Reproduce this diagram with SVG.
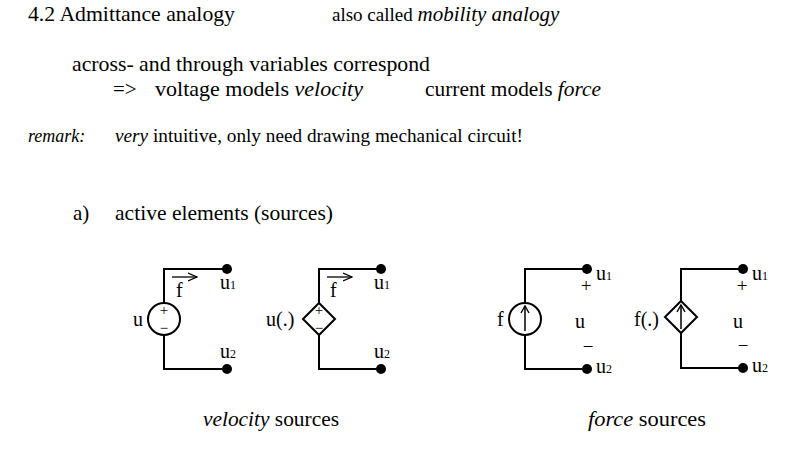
<svg xmlns="http://www.w3.org/2000/svg" width="800" height="455" viewBox="0 0 800 455">
<style>
text{font-family:"Liberation Serif","Times New Roman",serif;fill:#000}
.t{font-size:21px}
.s{font-size:18px}
.l{font-size:20px}
.sub{font-size:12px}
.sym{font-size:15px}
.pm{font-size:19px}
.i{font-style:italic}
.w{fill:none;stroke:#000;stroke-width:2}
.dot{fill:#000}
</style>
<defs>
<marker id="ah" markerWidth="10" markerHeight="10" refX="9" refY="5" orient="auto" markerUnits="userSpaceOnUse">
<path d="M0,1 L9,5 L0,9" fill="none" stroke="#000" stroke-width="1.3"/>
</marker>
<marker id="ahs" markerWidth="10" markerHeight="10" refX="8" refY="5" orient="auto" markerUnits="userSpaceOnUse">
<path d="M1,1 L8,5 L1,9" fill="none" stroke="#000" stroke-width="1.4"/>
</marker>
</defs>
<rect width="800" height="455" fill="#fff"/>
<g id="header">
<text class="t" x="28" y="21" textLength="207" lengthAdjust="spacingAndGlyphs">4.2 Admittance analogy</text>
<text x="332" y="21" font-size="19">also called <tspan class="i" font-size="21">mobility analogy</tspan></text>
<text class="t" x="72" y="71" textLength="358" lengthAdjust="spacingAndGlyphs">across- and through variables correspond</text>
<text class="t" x="113" y="96">=&gt;</text>
<text class="t" x="155" y="96" textLength="208" lengthAdjust="spacingAndGlyphs">voltage models <tspan class="i">velocity</tspan></text>
<text class="t" x="425" y="96" textLength="176" lengthAdjust="spacingAndGlyphs">current models <tspan class="i">force</tspan></text>
<text class="s i" x="28" y="142">remark:</text>
<text class="s" x="115" y="142" textLength="408" lengthAdjust="spacingAndGlyphs"><tspan class="i">very</tspan> intuitive, only need drawing mechanical circuit!</text>
<text class="t" x="73" y="220">a)</text>
<text class="t" x="115" y="220" textLength="218" lengthAdjust="spacingAndGlyphs">active elements (sources)</text>
</g>
<g id="connectors">
<path class="w" d="M227,269 H164 V303 M164,335 V369 H227"/>
<path class="w" d="M381,269 H319 V303 M319,335 V369 H381"/>
<path class="w" d="M587,269 H525 V303 M525,335 V369 H587"/>
<path class="w" d="M743,269 H681 V301 M681,333 V368 H743"/>
</g>
<g id="velocity-source">
<circle class="w" cx="164" cy="319" r="16"/>
<text class="sym" x="164" y="315" text-anchor="middle">+</text>
<text class="sym" x="164" y="333" text-anchor="middle">−</text>
<text class="l" x="133" y="326">u</text>
<line x1="172" y1="277" x2="197" y2="277" stroke="#000" stroke-width="1.3" marker-end="url(#ah)"/>
<text class="l" x="176" y="297">f</text>
<circle class="dot" cx="227" cy="269" r="5"/>
<circle class="dot" cx="227" cy="369" r="5"/>
<text class="l" x="220" y="289">u<tspan class="sub">1</tspan></text>
<text class="l" x="220" y="358">u<tspan class="sub">2</tspan></text>
</g>
<g id="dep-velocity-source">
<path class="w" d="M319,303 L335,319 L319,335 L303,319 Z"/>
<text class="sym" x="319" y="315" text-anchor="middle">+</text>
<text class="sym" x="319" y="333" text-anchor="middle">−</text>
<text class="l" x="266" y="326">u(.)</text>
<line x1="327" y1="277" x2="352" y2="277" stroke="#000" stroke-width="1.3" marker-end="url(#ah)"/>
<text class="l" x="330" y="297">f</text>
<circle class="dot" cx="381" cy="269" r="5"/>
<circle class="dot" cx="381" cy="369" r="5"/>
<text class="l" x="374" y="289">u<tspan class="sub">1</tspan></text>
<text class="l" x="374" y="358">u<tspan class="sub">2</tspan></text>
</g>
<g id="force-source">
<circle class="w" cx="525" cy="319" r="16"/>
<line x1="525" y1="331" x2="525" y2="306" stroke="#000" stroke-width="1.5" marker-end="url(#ahs)"/>
<text class="l" x="497" y="326">f</text>
<circle class="dot" cx="587" cy="269" r="5"/>
<circle class="dot" cx="587" cy="369" r="5"/>
<text class="l" x="596" y="280">u<tspan class="sub">1</tspan></text>
<text class="pm" x="586" y="292" text-anchor="middle">+</text>
<text class="l" x="575" y="328">u</text>
<text class="pm" x="588" y="353" text-anchor="middle">−</text>
<text class="l" x="596" y="373">u<tspan class="sub">2</tspan></text>
</g>
<g id="dep-force-source">
<path class="w" d="M681,301 L697,317 L681,333 L665,317 Z"/>
<line x1="681" y1="329" x2="681" y2="305" stroke="#000" stroke-width="1.5" marker-end="url(#ahs)"/>
<text class="l" x="634" y="326">f(.)</text>
<circle class="dot" cx="743" cy="269" r="5"/>
<circle class="dot" cx="743" cy="368" r="5"/>
<text class="l" x="752" y="280">u<tspan class="sub">1</tspan></text>
<text class="pm" x="742" y="292" text-anchor="middle">+</text>
<text class="l" x="733" y="328">u</text>
<text class="pm" x="743" y="352" text-anchor="middle">−</text>
<text class="l" x="752" y="372">u<tspan class="sub">2</tspan></text>
</g>
<g id="captions">
<text x="203" y="426" font-size="21" textLength="136" lengthAdjust="spacingAndGlyphs"><tspan class="i">velocity</tspan> sources</text>
<text x="588" y="426" font-size="21" textLength="118" lengthAdjust="spacingAndGlyphs"><tspan class="i">force</tspan> sources</text>
</g>
</svg>
